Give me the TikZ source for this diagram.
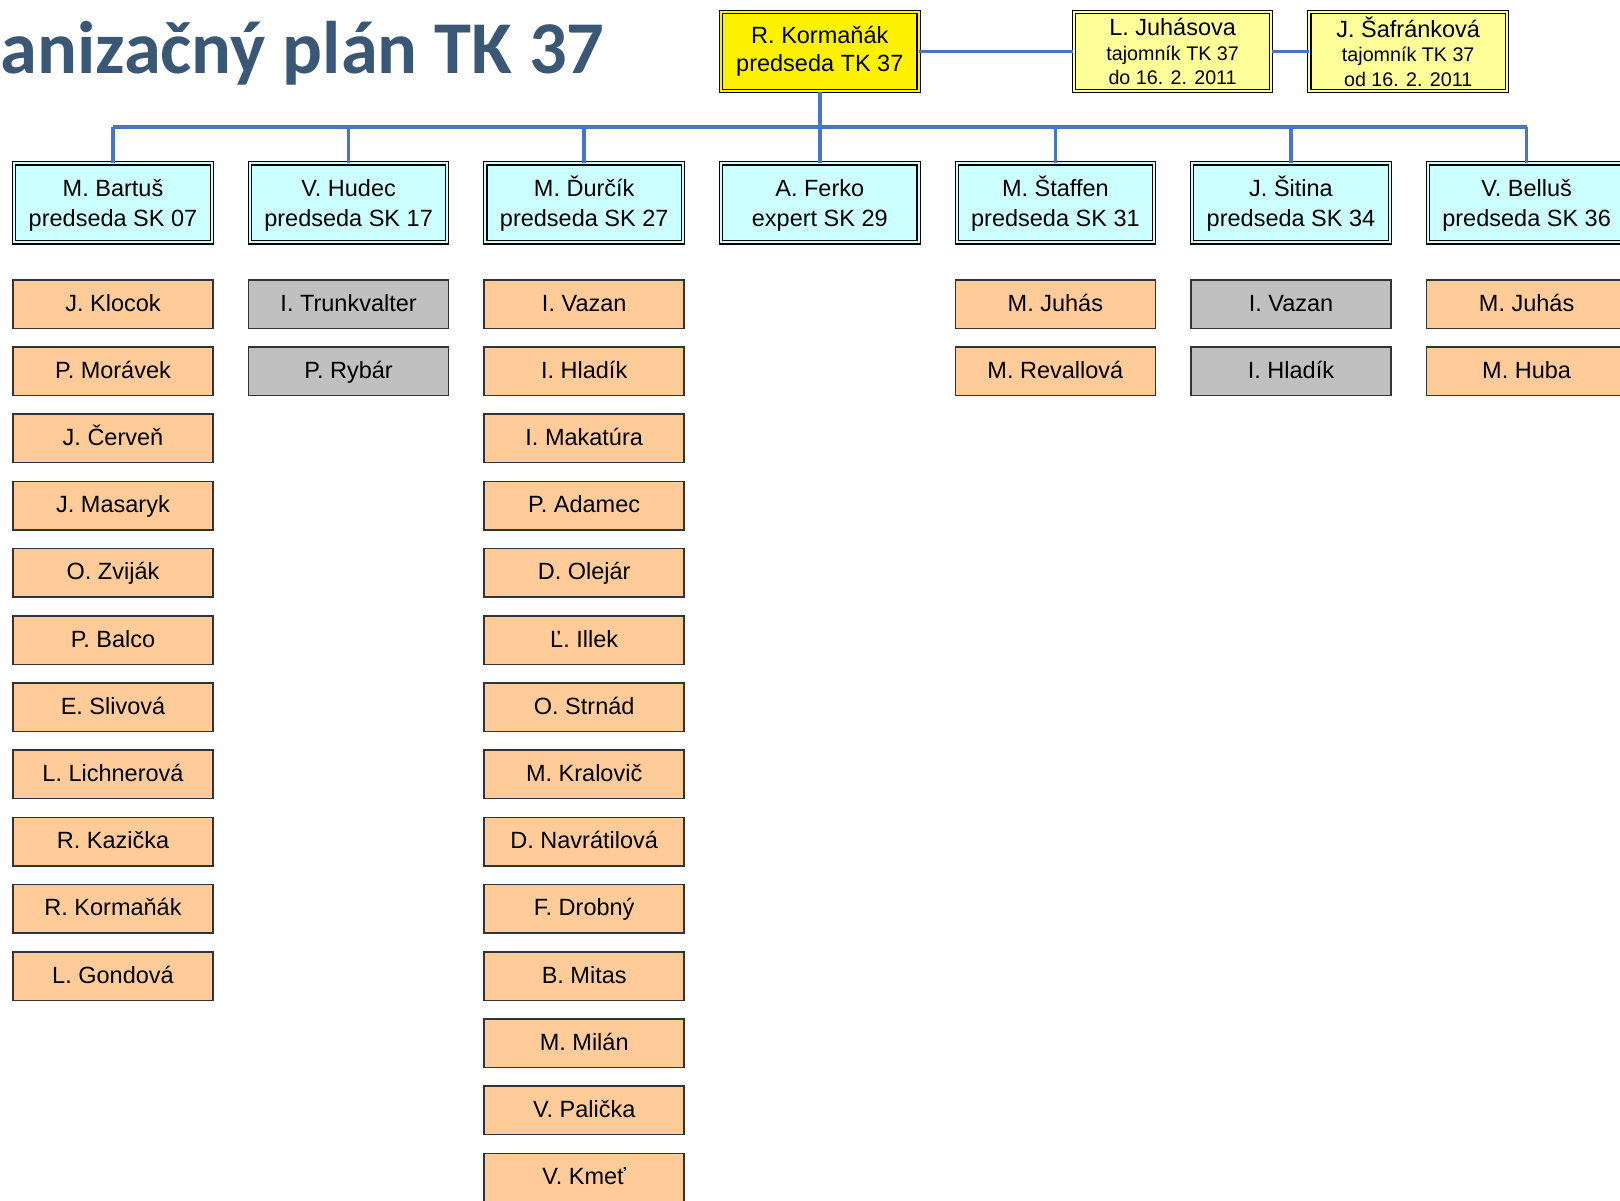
\documentclass[tikz,border=0pt]{standalone}
\usepackage{fontspec}
\setmainfont{Liberation Sans}
\newfontfamily\titlefont{Carlito}
\usepackage{xcolor}
\usetikzlibrary{positioning}
\definecolor{linkblue}{RGB}{72,117,197}
\definecolor{titleblue}{RGB}{58,88,118}
\definecolor{headcyan}{RGB}{204,255,255}
\definecolor{memberorange}{RGB}{255,204,153}
\definecolor{membergrey}{RGB}{192,192,192}
\definecolor{secyellow}{RGB}{255,255,153}
\tikzset{
    topnode/.style = {draw, rectangle, double=yellow, double distance=2pt, line width=1.1pt, 
      fill=yellow, inner sep=0pt, node distance=0em, minimum width=197.5pt, minimum height=79pt, 
      font=\fontsize{23.5}{28}\selectfont},
    secnode/.style = {topnode, fill=secyellow, double=secyellow},
    headnode/.style = {topnode, fill=headcyan, double=headcyan, font=\fontsize{23.5}{29}\selectfont, 
      text height=48pt, text depth=2pt},
    membernode/.style = {draw=black!80, rectangle, line width=1.5pt, fill=memberorange, inner sep=0pt, 
      node distance=0em, minimum width=200pt, minimum height=48.5pt, font=\fontsize{23.5}{28}\selectfont,
      text height=17pt, text depth=3pt},
    greynode/.style = {membernode, fill=membergrey},
    titletext/.style = {draw=none, fill=none, inner sep=0pt, text=titleblue, 
      font=\titlefont\bfseries\fontsize{74.5}{80}\selectfont},
    link/.style = {linkblue, line width=3.6pt},
    every text node part/.style={align=center}
}
\newcommand{\secsmall}{\fontsize{19.7}{23.5}\selectfont}

\begin{document}
\begin{tikzpicture}[x=1pt, y=1pt]
    \useasboundingbox (0,0) rectangle (1620,-1201);

    \node [name=title, titletext, anchor=base west] at (0,-74) {anizačný plán TK 37};

    \node [name=rk, topnode] at (819.8,-51.5) {R. Kormaňák\\predseda TK 37};
    \node [name=juhasova, secnode, right of = rk, xshift=352.8pt] 
        {L. Juhásova\\[-3.5pt]\secsmall tajomník TK 37\\[-3.5pt]\secsmall do 16. 2. 2011};
    \node [name=safrankova, secnode, right of = rk, xshift=588.4pt] 
        {J. Šafránková\\[-3.5pt]\secsmall tajomník TK 37\\[-3.5pt]\secsmall od 16. 2. 2011};

    % predsedovia SK
    \node [name=bartus, headnode, below of = rk, xshift=-706.8pt, yshift=-151.5pt] {M. Bartuš\\predseda SK 07};
    \node [name=hudec, headnode, below of = rk, xshift=-471.2pt, yshift=-151.5pt] {V. Hudec\\predseda SK 17};
    \node [name=durcik, headnode, below of = rk, xshift=-235.6pt, yshift=-151.5pt] {M. Ďurčík\\predseda SK 27};
    \node [name=ferko, headnode, below of = rk, yshift=-151.5pt] {A. Ferko\\expert SK 29};
    \node [name=staffen, headnode, below of = rk, xshift=235.6pt, yshift=-151.5pt] {M. Štaffen\\predseda SK 31};
    \node [name=sitina, headnode, below of = rk, xshift=471.2pt, yshift=-151.5pt] {J. Šitina\\predseda SK 34};
    \node [name=bellus, headnode, below of = rk, xshift=706.8pt, yshift=-151.5pt] {V. Belluš\\predseda SK 36};

    % SK 07
    \node [name=bartus1, membernode, below of = bartus, yshift=-101pt] {J. Klocok};
    \node [name=bartus2, membernode, below of = bartus1, yshift=-67.2pt] {P. Morávek};
    \node [name=bartus3, membernode, below of = bartus2, yshift=-67.2pt] {J. Červeň};
    \node [name=bartus4, membernode, below of = bartus3, yshift=-67.2pt] {J. Masaryk};
    \node [name=bartus5, membernode, below of = bartus4, yshift=-67.2pt] {O. Zviják};
    \node [name=bartus6, membernode, below of = bartus5, yshift=-67.2pt] {P. Balco};
    \node [name=bartus7, membernode, below of = bartus6, yshift=-67.2pt] {E. Slivová};
    \node [name=bartus8, membernode, below of = bartus7, yshift=-67.2pt] {L. Lichnerová};
    \node [name=bartus9, membernode, below of = bartus8, yshift=-67.2pt] {R. Kazička};
    \node [name=bartus10, membernode, below of = bartus9, yshift=-67.2pt] {R. Kormaňák};
    \node [name=bartus11, membernode, below of = bartus10, yshift=-67.2pt] {L. Gondová};

    % SK 17
    \node [name=hudec1, greynode, below of = hudec, yshift=-101pt] {I. Trunkvalter};
    \node [name=hudec2, greynode, below of = hudec1, yshift=-67.2pt] {P. Rybár};

    % SK 27
    \node [name=durcik1, membernode, below of = durcik, yshift=-101pt] {I. Vazan};
    \node [name=durcik2, membernode, below of = durcik1, yshift=-67.2pt] {I. Hladík};
    \node [name=durcik3, membernode, below of = durcik2, yshift=-67.2pt] {I. Makatúra};
    \node [name=durcik4, membernode, below of = durcik3, yshift=-67.2pt] {P. Adamec};
    \node [name=durcik5, membernode, below of = durcik4, yshift=-67.2pt] {D. Olejár};
    \node [name=durcik6, membernode, below of = durcik5, yshift=-67.2pt] {Ľ. Illek};
    \node [name=durcik7, membernode, below of = durcik6, yshift=-67.2pt] {O. Strnád};
    \node [name=durcik8, membernode, below of = durcik7, yshift=-67.2pt] {M. Kralovič};
    \node [name=durcik9, membernode, below of = durcik8, yshift=-67.2pt] {D. Navrátilová};
    \node [name=durcik10, membernode, below of = durcik9, yshift=-67.2pt] {F. Drobný};
    \node [name=durcik11, membernode, below of = durcik10, yshift=-67.2pt] {B. Mitas};
    \node [name=durcik12, membernode, below of = durcik11, yshift=-67.2pt] {M. Milán};
    \node [name=durcik13, membernode, below of = durcik12, yshift=-67.2pt] {V. Palička};
    \node [name=durcik14, membernode, below of = durcik13, yshift=-67.2pt] {V. Kmeť};

    % SK 31, SK 34, SK 36
    \node [name=staffen1, membernode, below of = staffen, yshift=-101pt] {M. Juhás};
    \node [name=staffen2, membernode, below of = staffen1, yshift=-67.2pt] {M. Revallová};
    \node [name=sitina1, greynode, below of = sitina, yshift=-101pt] {I. Vazan};
    \node [name=sitina2, greynode, below of = sitina1, yshift=-67.2pt] {I. Hladík};
    \node [name=bellus1, membernode, below of = bellus, yshift=-101pt] {M. Juhás};
    \node [name=bellus2, membernode, below of = bellus1, yshift=-67.2pt] {M. Huba};

    % spojnice
    \coordinate (bus) at (0,-127);
    \draw [link] (rk.east) -- (juhasova.west);
    \draw [link] (juhasova.east) -- (safrankova.west);
    \draw [link] (rk.south) -- (rk.south |- bus);
    \draw [link] (bartus.north |- bus) -- (bellus.north |- bus);
    \draw [link] (bartus.north) -- (bartus.north |- bus);
    \draw [link] (hudec.north) -- (hudec.north |- bus);
    \draw [link] (durcik.north) -- (durcik.north |- bus);
    \draw [link] (ferko.north) -- (ferko.north |- bus);
    \draw [link] (staffen.north) -- (staffen.north |- bus);
    \draw [link] (sitina.north) -- (sitina.north |- bus);
    \draw [link] (bellus.north) -- (bellus.north |- bus);
\end{tikzpicture}
\end{document}
